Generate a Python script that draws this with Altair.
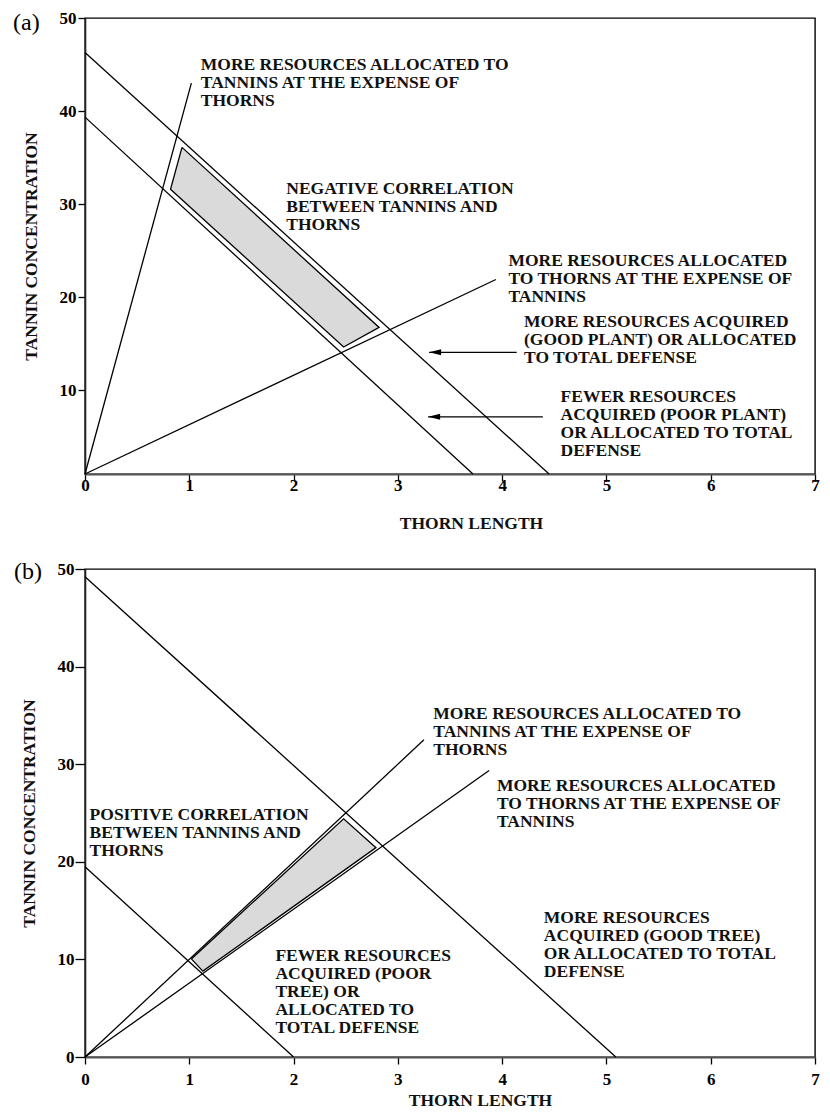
import altair as alt
import pandas as pd

FONT = "Liberation Serif"

# ---------------- Panel (a) ----------------
a_seg_x = [0.0, 0.0, 0.0, 0.0]
a_seg_y = [46.3, 39.35, 1.0, 1.0]
a_seg_x2 = [4.45, 3.72, 1.02, 3.94]
a_seg_y2 = [1.0, 1.0, 43.0, 21.9]

a_poly_x = [0.93, 2.82, 2.48, 0.82, 0.93]
a_poly_y = [36.1, 16.75, 14.65, 31.6, 36.1]

a_arrow_x = [4.14, 4.39]
a_arrow_x2 = [3.30, 3.29]
a_arrow_y = [14.07, 7.14]

a_text_x = [1.11, 1.93, 4.06, 4.21, 4.56]
a_text_y = [44.36, 31.14, 23.32, 16.75, 8.75]
a_text = [
    "MORE RESOURCES ALLOCATED TO\nTANNINS AT THE EXPENSE OF\nTHORNS",
    "NEGATIVE CORRELATION\nBETWEEN TANNINS AND\nTHORNS",
    "MORE RESOURCES ALLOCATED\nTO THORNS AT THE EXPENSE OF\nTANNINS",
    "MORE RESOURCES ACQUIRED\n(GOOD PLANT) OR ALLOCATED\nTO TOTAL DEFENSE",
    "FEWER RESOURCES\nACQUIRED (POOR PLANT)\nOR ALLOCATED TO TOTAL\nDEFENSE",
]

# ---------------- Panel (b) ----------------
b_seg_x = [0.0, 0.0, 0.0, 0.0]
b_seg_y = [49.2, 19.5, 0.0, 0.0]
b_seg_x2 = [5.09, 2.0, 3.25, 3.875]
b_seg_y2 = [0.0, 0.0, 32.5, 29.35]

b_poly_x = [1.02, 2.48, 2.79, 1.13, 1.02]
b_poly_y = [10.05, 24.4, 21.45, 8.8, 10.05]

b_text_x = [3.34, 3.95, 0.044, 1.826, 4.40]
b_text_y = [34.6, 27.3, 24.25, 9.87, 13.7]
b_text = [
    "MORE RESOURCES ALLOCATED TO\nTANNINS AT THE EXPENSE OF\nTHORNS",
    "MORE RESOURCES ALLOCATED\nTO THORNS AT THE EXPENSE OF\nTANNINS",
    "POSITIVE CORRELATION\nBETWEEN TANNINS AND\nTHORNS",
    "FEWER RESOURCES\nACQUIRED (POOR\nTREE) OR\nALLOCATED TO\nTOTAL DEFENSE",
    "MORE RESOURCES\nACQUIRED (GOOD TREE)\nOR ALLOCATED TO TOTAL\nDEFENSE",
]

x_ticks = [0, 1, 2, 3, 4, 5, 6, 7]
a_y_ticks = [10, 20, 30, 40, 50]
b_y_ticks = [0, 10, 20, 30, 40, 50]

ARROW_SHAPE = "M0,0L2,-0.5L2,0.5Z"


def make_panel(label, seg, poly, texts, y_domain, y_ticks, w, h,
               ytick, ylabpad, xlabpad, ytitle_x, xtitle_x, xtitle_y,
               label_x, label_y, arrows=None):
    xscale = alt.Scale(domain=[0, 7], nice=False, zero=False)
    yscale = alt.Scale(domain=y_domain, nice=False, zero=False)
    xaxis = alt.Axis(values=x_ticks, format="d", title="THORN LENGTH", grid=False,
                     labelFont=FONT, labelFontWeight="bold", labelFontSize=17,
                     labelColor="black", tickColor="black", tickWidth=1.3,
                     tickSize=7, labelPadding=xlabpad, domainColor="#555",
                     domainWidth=2, titleFont=FONT, titleFontSize=17.5,
                     titleFontWeight="bold", titleColor="#111",
                     titleBaseline="alphabetic", titleY=xtitle_y, titleX=xtitle_x,
                     labelFlush=False, labelOverlap=False)
    yaxis = alt.Axis(values=y_ticks, format="d", title="TANNIN CONCENTRATION", grid=False,
                     labelFont=FONT, labelFontWeight="bold", labelFontSize=17,
                     labelColor="black", tickColor="black", tickWidth=1.3,
                     tickSize=ytick, labelPadding=ylabpad, domainColor="#222",
                     domainWidth=1.6, titleFont=FONT, titleFontSize=17.5,
                     titleFontWeight="bold", titleColor="#111",
                     titleBaseline="alphabetic", titleX=ytitle_x,
                     titleY=h / 2, titleAngle=270, titleAlign="center",
                     labelFlush=False, labelOverlap=False)

    seg_df = pd.DataFrame({"x": seg[0], "y": seg[1], "x2": seg[2], "y2": seg[3]})
    poly_df = pd.DataFrame({"x": poly[0], "y": poly[1],
                            "o": list(range(len(poly[0])))})
    txt_df = pd.DataFrame({"x": texts[0], "y": texts[1], "t": texts[2]})

    text_layer = alt.Chart(txt_df).mark_text(
        align="left", baseline="alphabetic", font=FONT, fontSize=17.5,
        fontWeight="bold", color="#111", lineBreak="\n", lineHeight=18
    ).encode(
        x=alt.X("x:Q", scale=xscale, axis=xaxis),
        y=alt.Y("y:Q", scale=yscale, axis=yaxis),
        text="t:N",
    )
    poly_layer = alt.Chart(poly_df).mark_line(
        fill="#dadada", stroke="black", strokeWidth=1.3, strokeJoin="miter"
    ).encode(
        x=alt.X("x:Q", scale=xscale),
        y=alt.Y("y:Q", scale=yscale),
        order="o:Q",
    )
    seg_layer = alt.Chart(seg_df).mark_rule(
        color="black", strokeWidth=1.3
    ).encode(
        x=alt.X("x:Q", scale=xscale),
        y=alt.Y("y:Q", scale=yscale),
        x2="x2:Q", y2="y2:Q",
    )
    label_layer = alt.Chart(pd.DataFrame({"t": [label]})).mark_text(
        align="left", baseline="middle", font=FONT, fontSize=24,
        fontWeight="normal", color="black"
    ).encode(text="t:N", x=alt.value(label_x), y=alt.value(label_y))

    layers = [text_layer, poly_layer, seg_layer, label_layer]
    if arrows is not None:
        arr_df = pd.DataFrame({"x": arrows[0], "x2": arrows[1], "y": arrows[2]})
        layers.append(alt.Chart(arr_df).mark_rule(color="black", strokeWidth=1.3).encode(
            x=alt.X("x:Q", scale=xscale), x2="x2:Q",
            y=alt.Y("y:Q", scale=yscale)))
        layers.append(alt.Chart(arr_df).mark_point(
            shape=ARROW_SHAPE, filled=True, color="black", size=144, opacity=1
        ).encode(x=alt.X("x2:Q", scale=xscale), y=alt.Y("y:Q", scale=yscale)))

    return alt.layer(*layers).properties(width=w, height=h)


panel_a = make_panel(
    "(a)", (a_seg_x, a_seg_y, a_seg_x2, a_seg_y2), (a_poly_x, a_poly_y),
    (a_text_x, a_text_y, a_text), [1, 50], a_y_ticks, 730, 456,
    ytick=7, ylabpad=2, xlabpad=-4, ytitle_x=-49, xtitle_x=386, xtitle_y=54,
    label_x=-72, label_y=5, arrows=(a_arrow_x, a_arrow_x2, a_arrow_y),
)
panel_b = make_panel(
    "(b)", (b_seg_x, b_seg_y, b_seg_x2, b_seg_y2), (b_poly_x, b_poly_y),
    (b_text_x, b_text_y, b_text), [0, 50], b_y_ticks, 730, 488,
    ytick=10, ylabpad=1, xlabpad=7, ytitle_x=-51, xtitle_x=395, xtitle_y=48,
    label_x=-71, label_y=3,
)

chart = alt.vconcat(panel_a, panel_b, spacing=26).configure_view(
    stroke="black", strokeWidth=1.4
).properties(padding={"left": 4, "top": 0, "right": 0, "bottom": 0}, background="white")

chart.save("out.html", embed_options={"renderer": "svg", "actions": False})
